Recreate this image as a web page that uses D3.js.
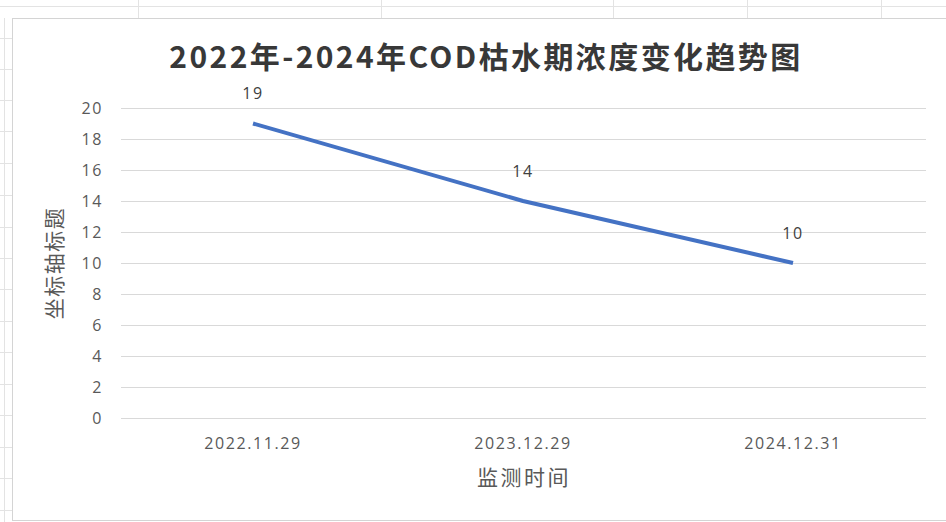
<!DOCTYPE html>
<html>
<head>
<meta charset="utf-8">
<script src="https://cdn.jsdelivr.net/npm/d3@7"></script>
<style>
  body { margin: 0; background: #fff; }
  svg { display: block; }
</style>
</head>
<body>
<svg id="chart" width="946" height="522"></svg>
<script>
// data
const dates = ['2022.11.29', '2023.12.29', '2024.12.31'];
const codValues = [19, 14, 10];
const yTicks = [0, 2, 4, 6, 8, 10, 12, 14, 16, 18, 20];
const titleText = '2022年-2024年COD枯水期浓度变化趋势图';
const xTitle = '监测时间';
const yTitle = '坐标轴标题';

const svg = d3.select('#chart');
const cjk = '"Noto Sans CJK SC", "Noto Sans", sans-serif';
const num = '"Open Sans", "Noto Sans", sans-serif';

// spreadsheet behind the chart
const sheet = svg.append('g').attr('stroke', '#e3e3e3').attr('stroke-width', 1);
sheet.append('line').attr('x1', 0).attr('x2', 946).attr('y1', 6.5).attr('y2', 6.5);
[138, 381, 613, 747, 881].forEach(x => {
  sheet.append('line').attr('x1', x + 0.5).attr('x2', x + 0.5).attr('y1', 0).attr('y2', 18);
});
sheet.append('line').attr('x1', 4.5).attr('x2', 4.5).attr('y1', 18).attr('y2', 522);
[38, 69, 100, 131, 163, 195, 227, 258, 289, 321, 352, 384, 415, 447, 478, 510].forEach(y => {
  sheet.append('line').attr('x1', 0).attr('x2', 12).attr('y1', y + 0.5).attr('y2', y + 0.5);
});

// chart area
svg.append('rect')
  .attr('x', 12.5).attr('y', 18.5)
  .attr('width', 946).attr('height', 502)
  .attr('fill', '#fff')
  .attr('stroke', '#d4d4d4');

const margin = { left: 118, right: 18, top: 108, bottom: 104 };
const width = 946 - margin.left - margin.right;
const height = 522 - margin.top - margin.bottom;

const g = svg.append('g').attr('transform', `translate(${margin.left},${margin.top})`);

const x = d3.scaleBand().domain(dates).range([0, width]);
const y = d3.scaleLinear().domain([0, 20]).range([height, 0]);

// gridlines
g.append('g')
  .selectAll('line')
  .data(yTicks)
  .join('line')
  .attr('x1', 3).attr('x2', width - 2)
  .attr('y1', d => Math.round(y(d)) + 0.5)
  .attr('y2', d => Math.round(y(d)) + 0.5)
  .attr('stroke', '#d9d9d9')
  .attr('stroke-width', 1.2);

// y axis
const yAxis = g.append('g')
  .call(d3.axisLeft(y).tickValues(yTicks).tickSize(0).tickPadding(15));
yAxis.select('.domain').remove();
yAxis.selectAll('text')
  .attr('font-family', num)
  .attr('font-size', '16px')
  .attr('letter-spacing', '1.6px')
  .attr('fill', '#595959');

// x axis
const xAxis = g.append('g')
  .attr('transform', `translate(0,${height})`)
  .call(d3.axisBottom(x).tickSize(0).tickPadding(20));
xAxis.select('.domain').remove();
xAxis.selectAll('text')
  .attr('font-family', num)
  .attr('font-size', '16px')
  .attr('letter-spacing', '1.6px')
  .attr('fill', '#595959');

// line
const line = d3.line()
  .x((d, i) => x(dates[i]) + x.bandwidth() / 2)
  .y(d => y(d));

g.append('path')
  .datum(codValues)
  .attr('d', line)
  .attr('fill', 'none')
  .attr('stroke', '#4472c4')
  .attr('stroke-width', 4)
  .attr('stroke-linejoin', 'round');

// data labels
g.selectAll('.val')
  .data(codValues)
  .join('text')
  .attr('class', 'val')
  .attr('x', (d, i) => x(dates[i]) + x.bandwidth() / 2)
  .attr('y', d => y(d) - 30)
  .attr('dy', '0.35em')
  .attr('text-anchor', 'middle')
  .attr('font-family', num)
  .attr('font-size', '16px')
  .attr('letter-spacing', '1.6px')
  .attr('fill', '#404040')
  .text(d => d);

// title
svg.append('text')
  .attr('x', 486)
  .attr('y', 57)
  .attr('dy', '0.35em')
  .attr('text-anchor', 'middle')
  .attr('font-family', cjk)
  .attr('font-weight', 'bold')
  .attr('font-size', '30px')
  .attr('letter-spacing', '2.4px')
  .attr('fill', '#383838')
  .text(titleText);

// axis titles
svg.append('text')
  .attr('x', 524)
  .attr('y', 478)
  .attr('dy', '0.35em')
  .attr('text-anchor', 'middle')
  .attr('font-family', cjk)
  .attr('font-size', '21px')
  .attr('letter-spacing', '2.5px')
  .attr('fill', '#595959')
  .text(xTitle);

svg.append('text')
  .attr('transform', 'translate(55,263) rotate(-90)')
  .attr('dy', '0.35em')
  .attr('text-anchor', 'middle')
  .attr('font-family', cjk)
  .attr('font-size', '21px')
  .attr('letter-spacing', '1.5px')
  .attr('fill', '#595959')
  .text(yTitle);
</script>
</body>
</html>
